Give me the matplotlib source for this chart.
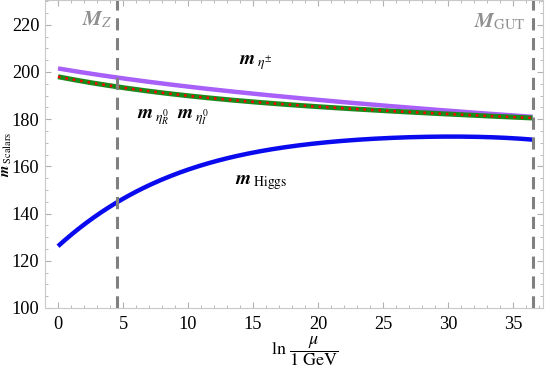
import matplotlib
matplotlib.use('Agg')
import matplotlib.pyplot as plt
import numpy as np
from matplotlib.ticker import MultipleLocator

plt.rcParams['font.family'] = ['Liberation Serif', 'DejaVu Serif']
plt.rcParams['mathtext.fontset'] = 'stix'

# data
t_charged = [0, 5, 10, 15, 20, 25, 30, 36.5]
m_charged = [201.5, 197.3, 193.8, 190.8, 188.2, 185.8, 183.6, 181.0]

t_neutral = [0, 5, 10, 15, 20, 25, 30, 36.5]
m_neutral = [198.0, 193.3, 190.0, 187.3, 185.3, 183.6, 182.2, 180.5]

t_higgs = [0, 2, 4, 6, 8, 10, 12, 14, 16, 18, 20, 22, 25, 28, 31, 34, 36.5]
m_higgs = [126, 135.5, 143, 149.5, 154.5, 158.5, 161.8, 164.5, 166.8, 168.6,
           170, 171, 172, 172.5, 172.5, 172, 171.5]

ln_mz = 4.51
ln_mgut = 36.5


def smooth(x, y):
    xs = np.linspace(x[0], x[-1], 200)
    c = np.polyfit(x, y, 4)
    return xs, np.polyval(c, xs)


fig = plt.figure(figsize=(5.45, 3.71), dpi=100)
ax = fig.add_axes([45 / 545, 1 - 308 / 371, 498 / 545, 308 / 371])

xs, ys = smooth(t_charged, m_charged)
ax.plot(xs, ys, color='#a860f8', lw=3.2, solid_capstyle='butt')
xs, ys = smooth(t_neutral, m_neutral)
ax.plot(xs, ys, color='#1a8a1a', lw=3.6, solid_capstyle='butt')
ax.plot(xs, ys, color='red', lw=1.8, ls=(0, (1, 2)))
xs, ys = smooth(t_higgs, m_higgs)
ax.plot(xs, ys, color='#0a0aee', lw=3.2, solid_capstyle='butt')

ax.axvline(ln_mz, color='#808080', lw=2.2, ls=(0, (4, 2.5)))
ax.axvline(ln_mgut, color='#808080', lw=2.2, ls=(0, (4, 2.5)))

ax.set_xlim(-1, 37.3)
ax.set_ylim(100, 230.5)
ax.xaxis.set_major_locator(MultipleLocator(5))
ax.xaxis.set_minor_locator(MultipleLocator(1))
ax.yaxis.set_major_locator(MultipleLocator(20))
ax.yaxis.set_minor_locator(MultipleLocator(5))
ax.tick_params(which='both', direction='in', top=True, right=True,
               color='#b0b0b0', labelsize=13.2)
ax.tick_params(which='major', length=4)
ax.tick_params(which='minor', length=2)
ax.tick_params(axis='x', pad=6)
ax.tick_params(axis='y', pad=4)
for s in ax.spines.values():
    s.set_color('#c8c8c8')

ax.text(3.0, 222, r'$\mathbfit{M}_Z$', color='#909090', fontsize=15, ha='center', va='center')
ax.text(34.0, 221, r'$\mathbfit{M}_{\mathrm{GUT}}$', color='#909090', fontsize=15, ha='center', va='center')
ax.text(13.9, 204, r'$\mathbfit{m}_{\;\eta^{\pm}}$', fontsize=14, va='center')
ax.text(6.1, 180.5, r'$\mathbfit{m}_{\;\eta_R^0}\;\; \mathbfit{m}_{\;\eta_I^0}$', fontsize=14, va='center')
ax.text(13.6, 153, r'$\mathbfit{m}_{\;\mathrm{Higgs}}$', fontsize=14, va='center')

# axis titles placed in figure pixels
fig.text(7.5 / 545, 1 - 154 / 371, r'$\mathbfit{m}_{\;\mathrm{Scalars}}$', fontsize=10.5,
         rotation=90, ha='center', va='center')
fig.text(305 / 545, 1 - 351 / 371, r'$\mathrm{ln}\ \dfrac{\mu}{1\ \mathrm{GeV}}$', fontsize=13,
         ha='center', va='center')

fig.savefig('out.png', dpi=100)
